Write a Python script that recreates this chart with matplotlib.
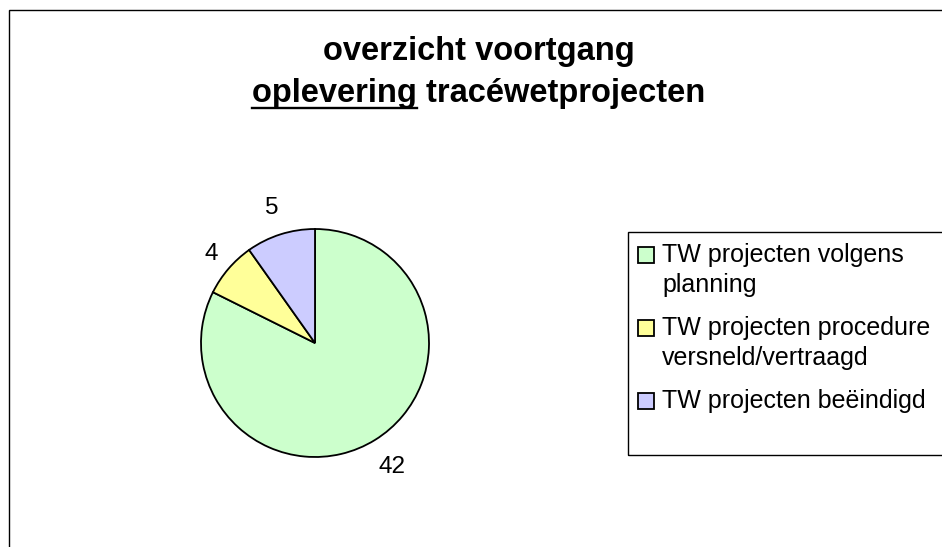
import matplotlib
matplotlib.use("Agg")
import matplotlib.pyplot as plt
import numpy as np
from matplotlib.patches import Rectangle
from matplotlib.lines import Line2D

plt.rcParams['font.family'] = ['Liberation Sans', 'DejaVu Sans']

# data
categories = ["TW projecten volgens\nplanning",
              "TW projecten procedure\nversneld/vertraagd",
              "TW projecten beëindigd"]
values = [42, 4, 5]
colors = ["#CCFFCC", "#FFFF99", "#CCCCFF"]
title_line1 = "overzicht voortgang"
title_under = "oplevering"
title_rest = " tracéwetprojecten"

# label distances from the centre (in radii), per slice
label_dist = [1.28, 1.20, 1.24]

W, H = 942, 547
fig = plt.figure(figsize=(W / 100, H / 100), dpi=100)


def fx(x):
    return x / W


def fy(y):
    return 1 - y / H


# outer chart frame (right and bottom edges fall outside the picture)
fig.patches.append(Rectangle((fx(9), fy(560)), fx(960 - 9), (560 - 10) / H,
                             transform=fig.transFigure, fill=False,
                             edgecolor="black", lw=1.0, clip_on=False))

# pie: centre (315, 343) px, radius 114 px
cx, cy, r = 315, 343, 114
ax = fig.add_axes([fx(cx - r), fy(cy + r), 2 * r / W, 2 * r / H])
wedges, texts = ax.pie(values, colors=colors, startangle=90, counterclock=False,
                       labels=[str(v) for v in values], labeldistance=1.24,
                       wedgeprops=dict(edgecolor="black", linewidth=1.3),
                       textprops=dict(fontsize=17.5))
for w, t, d in zip(wedges, texts, label_dist):
    ang = np.deg2rad((w.theta1 + w.theta2) / 2)
    t.set_position((d * np.cos(ang), d * np.sin(ang)))
    t.set_ha("center")
    t.set_va("center")
ax.set_xlim(-1, 1)
ax.set_ylim(-1, 1)
ax.set_aspect("equal")

# title, centred on the chart area
tx = 479
fig.text(fx(tx), fy(60), title_line1, ha="center", va="baseline",
         fontsize=23.5, fontweight="bold")
line2 = fig.text(fx(tx), fy(102), title_under + title_rest, ha="center",
                 va="baseline", fontsize=23.5, fontweight="bold")
renderer = fig.canvas.get_renderer()
full_w = line2.get_window_extent(renderer).width
tmp = fig.text(0, 0, title_under, fontsize=23.5, fontweight="bold")
under_w = tmp.get_window_extent(renderer).width
tmp.remove()
x0 = tx - full_w / 2
fig.add_artist(Line2D([fx(x0), fx(x0 + under_w)], [fy(108), fy(108)],
                      transform=fig.transFigure, color="black", lw=1.7))

# legend box (right edge outside the picture)
fig.patches.append(Rectangle((fx(628), fy(455)), fx(960 - 628), (455 - 232) / H,
                             transform=fig.transFigure, fill=False,
                             edgecolor="black", lw=1.0, clip_on=False))
entry_base = [262, 335, 408]
for lab, col, yb in zip(categories, colors, entry_base):
    fig.patches.append(Rectangle((fx(638), fy(yb + 1)), fx(16), 16 / H,
                                 transform=fig.transFigure, facecolor=col,
                                 edgecolor="black", lw=1.3))
    for i, part in enumerate(lab.split("\n")):
        fig.text(fx(662), fy(yb + 30 * i), part, ha="left", va="baseline",
                 fontsize=18)

fig.savefig("out.png", dpi=100)
